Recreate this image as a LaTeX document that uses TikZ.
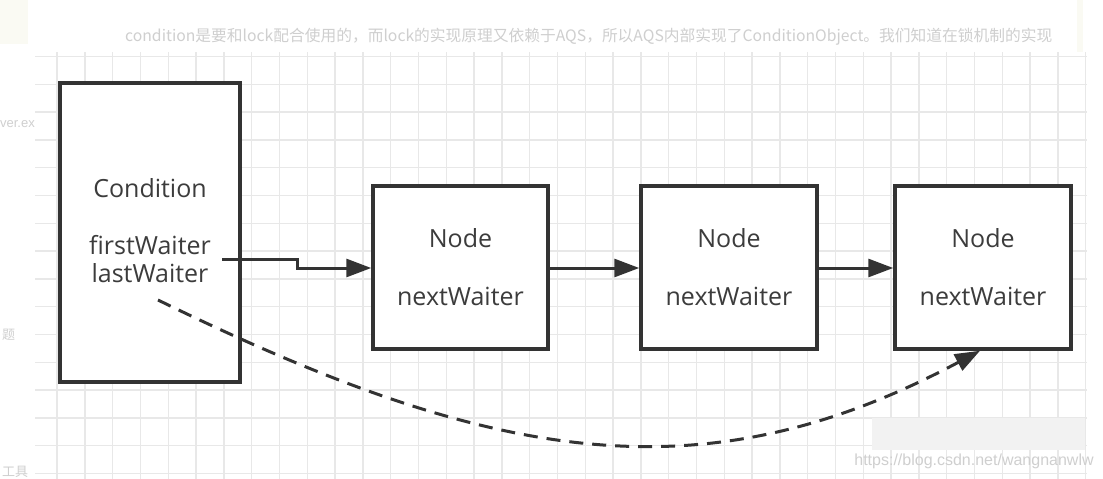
\documentclass[tikz,border=0pt]{standalone}
\usepackage{fontspec}
\usepackage{graphicx}
\setmainfont{Open Sans}
\newfontfamily\cjk{Noto Sans CJK SC}
\newfontfamily\wmfont{Liberation Sans}
\usetikzlibrary{arrows.meta}
\definecolor{ink}{HTML}{333333}
\definecolor{txt}{HTML}{3C3C3C}
\definecolor{gridc}{HTML}{E8E8E8}
\definecolor{faint}{HTML}{CFCFCF}
\definecolor{cream}{HTML}{FAFAF3}
\tikzset{
  gridline/.style={draw=gridc, line width=1.4pt},
  box/.style={draw=ink, line width=3.5pt, fill=white, inner sep=0pt},
  lbl/.style={inner sep=0pt, text=txt, font=\fontsize{25}{28}\selectfont},
  link/.style={draw=ink, line width=3pt, -{Triangle[length=25pt,width=18pt]}},
  dlink/.style={draw=ink, line width=3pt, dash pattern=on 14pt off 9pt, -{Triangle[length=25pt,width=18pt]}},
}
\begin{document}
\begin{tikzpicture}[x=1pt,y=-1pt]
\useasboundingbox (0,0) rectangle (1103,479);
\fill[white] (0,0) rectangle (1103,479);
\fill[cream] (0,0) rectangle (28,44);
\fill[cream] (1077,0) rectangle (1083,52);
% grid
\begin{scope}
\clip (35,52) rectangle (1087,479);
\foreach \i in {-1,...,37} \draw[gridline] ({57+27.8*\i},52) -- ({57+27.8*\i},479);
\foreach \j in {0,...,15} \draw[gridline] (35,{56.4+27.8*\j}) -- (1087,{56.4+27.8*\j});
\end{scope}
% caption
\node[inner sep=0pt, text=faint, anchor=west] (cap) at (125,37)
  {\resizebox{927pt}{!}{\cjk condition是要和lock配合使用的，而lock的实现原理又依赖于AQS，所以AQS内部实现了ConditionObject。我们知道在锁机制的实现}};
% sidebar fragments
\begin{scope}
\clip (0,0) rectangle (35,479);
\node[inner sep=0pt, text=faint, anchor=east, font=\wmfont\fontsize{13}{15}\selectfont] (sb1) at (35,124) {ver.ex};
\node[inner sep=0pt, text=faint, anchor=west, font=\cjk\fontsize{13}{15}\selectfont] (sb2) at (2,335) {题};
\node[inner sep=0pt, text=faint, anchor=west, font=\cjk\fontsize{13}{15}\selectfont] (sb3) at (2,472) {工具};
\end{scope}
% boxes
\node[box, minimum width=180pt, minimum height=299pt] (cond) at (150,232.5) {};
\node[box, minimum width=175pt, minimum height=163pt] (n1) at (460.5,267.5) {};
\node[box, minimum width=176pt, minimum height=163pt] (n2) at (729,267.5) {};
\node[box, minimum width=176pt, minimum height=163pt] (n3) at (983,267.5) {};
% labels
\node[lbl] (tcond) at (150,188) {Condition};
\node[lbl] (tfirst) at (150,245) {firstWaiter};
\node[lbl] (tlast) at (150,273) {lastWaiter};
\node[lbl] (t1a) at (460.5,238) {Node};
\node[lbl] (t1b) at (460.5,296) {nextWaiter};
\node[lbl] (t2a) at (729,238) {Node};
\node[lbl] (t2b) at (729,296) {nextWaiter};
\node[lbl] (t3a) at (983,238) {Node};
\node[lbl] (t3b) at (983,296) {nextWaiter};
% connectors
\coordinate (fw) at (222,259);
\coordinate (ll) at (158,300);
\draw[link] (fw) -- (297,259) -- (297,268) -- (n1.west |- 0,268);
\draw[link] (n1.east |- 0,268) -- (n2.west |- 0,268);
\draw[link] (n2.east |- 0,268) -- (n3.west |- 0,268);
\draw[dlink] (ll) .. controls (490,462) and (700,500) .. (n3.south -| 980,0);
% watermark
\fill[gray!10] (872,418) rectangle (1085,450);
\node[inner sep=0pt, text=faint, font=\wmfont\fontsize{16}{18}\selectfont] (wm) at (974,461) {https://blog.csdn.net/wangnanwlw};
\end{tikzpicture}
\end{document}
